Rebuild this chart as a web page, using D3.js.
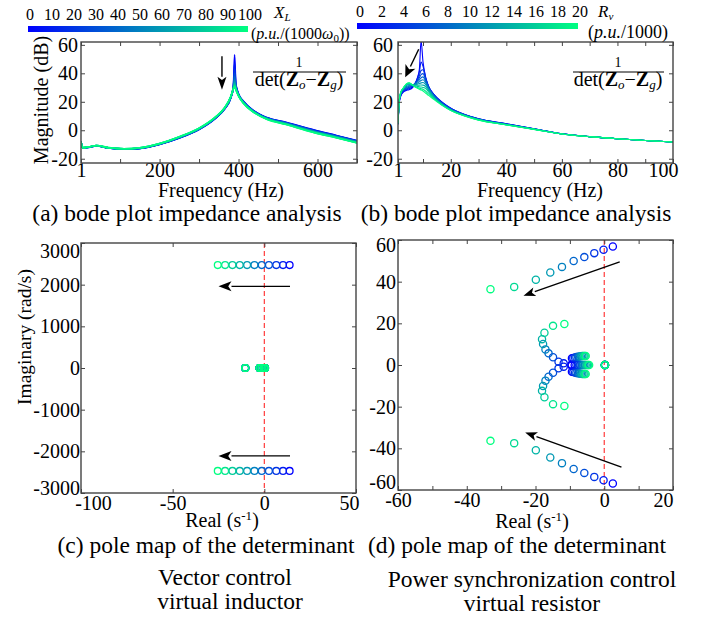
<!DOCTYPE html>
<meta charset="utf-8" />
<head>
  <script src="https://d3js.org/d3.v7.min.js"></script>
  <style>
    body { margin: 0; background: #fff; }
    text { font-family: "Liberation Serif", "Times New Roman", serif; fill: #000; }
  </style>
</head>
<body>
<div id="chart"></div>
<script>
// ---------- data ----------
// (a) vector control, virtual inductor X_L = 0..100 (p.u./(1000 w0))
var xlValues = [0, 10, 20, 30, 40, 50, 60, 70, 80, 90, 100];
var freqA = [1, 5, 20, 40, 70, 110, 150, 200, 250, 300, 340, 365, 380, 387, 390, 393, 400, 412, 437, 471, 520, 590, 650, 700];
var magA = [
  [-8, -12.5, -12.0, -11.0, -12.5, -13.3, -12.8, -10.0, -5.5, 0.5, 8.0, 15.0, 22.5, 31.0, 53.0, 33.0, 25.5, 20.5, 14.0, 9.0, 5.6, 0.3, -3.8, -7.3],
  [-8, -12.5, -12.0, -11.0, -12.5, -13.3, -12.8, -9.9, -5.4, 0.6, 8.1, 15.1, 22.6, 30.8, 47.0, 32.4, 25.4, 20.4, 13.9, 8.9, 5.4, 0.1, -4.0, -7.5],
  [-8, -12.4, -11.9, -10.9, -12.4, -13.2, -12.7, -9.9, -5.3, 0.7, 8.2, 15.2, 22.7, 30.6, 43.0, 31.8, 25.2, 20.2, 13.8, 8.8, 5.3, -0.1, -4.1, -7.6],
  [-8, -12.4, -11.9, -10.9, -12.4, -13.2, -12.7, -9.8, -5.2, 0.8, 8.3, 15.3, 22.8, 30.4, 40.0, 31.3, 25.1, 20.1, 13.6, 8.6, 5.1, -0.3, -4.3, -7.8],
  [-8, -12.4, -11.9, -10.9, -12.4, -13.2, -12.6, -9.7, -5.1, 0.9, 8.4, 15.4, 22.9, 30.2, 37.5, 30.8, 24.9, 19.9, 13.5, 8.5, 5.0, -0.5, -4.5, -8.0],
  [-8, -12.4, -11.9, -10.9, -12.4, -13.2, -12.6, -9.7, -5.0, 1.0, 8.5, 15.5, 23.0, 30.0, 35.5, 30.3, 24.8, 19.8, 13.4, 8.4, 4.8, -0.7, -4.7, -8.2],
  [-8, -12.3, -11.8, -10.8, -12.3, -13.1, -12.5, -9.6, -4.9, 1.1, 8.6, 15.6, 23.1, 29.8, 34.0, 29.9, 24.6, 19.6, 13.3, 8.3, 4.6, -0.9, -4.8, -8.3],
  [-8, -12.3, -11.8, -10.8, -12.3, -13.1, -12.5, -9.5, -4.8, 1.2, 8.7, 15.7, 23.2, 29.6, 33.0, 29.5, 24.5, 19.5, 13.2, 8.2, 4.5, -1.1, -5.0, -8.5],
  [-8, -12.3, -11.8, -10.8, -12.3, -13.1, -12.4, -9.4, -4.7, 1.3, 8.8, 15.8, 23.3, 29.4, 32.0, 29.1, 24.3, 19.3, 13.0, 8.0, 4.3, -1.3, -5.2, -8.7],
  [-8, -12.2, -11.7, -10.7, -12.2, -13.0, -12.4, -9.4, -4.6, 1.4, 8.9, 15.9, 23.4, 29.2, 31.2, 28.8, 24.2, 19.2, 12.9, 7.9, 4.2, -1.5, -5.4, -8.8],
  [-8, -12.2, -11.7, -10.7, -12.2, -13.0, -12.3, -9.3, -4.5, 1.5, 9.0, 16.0, 23.5, 29.0, 30.5, 28.5, 24.0, 19.0, 12.8, 7.8, 4.0, -1.6, -5.5, -9.0]
];

// (b) power synchronization control, virtual resistor R_v = 0..20 (p.u./1000)
var rvValues = [0, 2, 4, 6, 8, 10, 12, 14, 16, 18, 20];
var freqB = [1, 1.5, 2, 3, 4, 5, 6, 7, 8, 8.7, 9.3, 10, 11, 12, 14, 17, 20, 25, 30, 40, 50, 60, 70, 80, 90, 100];
var magB = [
  [4, 20, 24, 27, 28, 28.5, 29.5, 32, 37, 43, 63, 48, 37, 31, 25, 19.5, 15.5, 11, 8, 4.5, 1, -2.5, -4.5, -6, -7.2, -8.3],
  [4.2, 20.3, 24.4, 27.4, 28.5, 29.1, 30.2, 32.4, 36.5, 41, 48, 45, 36.5, 30.8, 24.8, 19.3, 15.4, 11, 8, 4.5, 1, -2.5, -4.5, -6, -7.2, -8.3],
  [4.4, 20.6, 24.8, 27.8, 29, 29.7, 30.8, 32.6, 35.5, 38.5, 42, 42.5, 36, 30.6, 24.6, 19.1, 15.2, 10.9, 7.9, 4.4, 1, -2.5, -4.5, -6, -7.2, -8.3],
  [4.6, 20.9, 25.2, 28.2, 29.5, 30.3, 31.2, 32.7, 34.8, 36.8, 39, 39.8, 35.3, 30.3, 24.3, 18.9, 15, 10.8, 7.8, 4.3, 0.9, -2.5, -4.5, -6, -7.2, -8.3],
  [4.8, 21.2, 25.5, 28.6, 30.1, 30.9, 31.5, 32.6, 34, 35.3, 36.8, 37.5, 34.3, 29.8, 24, 18.7, 14.8, 10.7, 7.7, 4.2, 0.9, -2.5, -4.5, -6, -7.2, -8.3],
  [5, 21.4, 25.8, 29, 30.8, 31.5, 31.7, 32.4, 33.2, 34, 35, 35.5, 33.2, 29.2, 23.6, 18.4, 14.6, 10.6, 7.6, 4.1, 0.8, -2.6, -4.5, -6, -7.2, -8.3],
  [5, 21.6, 26.1, 29.3, 31.4, 32.1, 31.9, 32, 32.4, 32.8, 33.3, 33.5, 32, 28.6, 23.2, 18.1, 14.4, 10.4, 7.5, 4, 0.8, -2.6, -4.5, -6, -7.2, -8.3],
  [5, 21.8, 26.3, 29.6, 31.9, 32.6, 32, 31.6, 31.6, 31.7, 31.8, 31.7, 30.7, 27.8, 22.8, 17.9, 14.3, 10.3, 7.4, 3.9, 0.7, -2.6, -4.5, -6, -7.2, -8.3],
  [5, 21.9, 26.5, 29.8, 32.2, 33, 32.1, 31.2, 30.8, 30.6, 30.4, 30.1, 29.3, 27, 22.4, 17.7, 14.1, 10.2, 7.3, 3.9, 0.7, -2.6, -4.5, -6, -7.2, -8.3],
  [5, 22, 26.6, 29.9, 32.4, 33.2, 32.1, 30.9, 30.1, 29.6, 29.2, 28.8, 27.4, 25.5, 22, 17.5, 14, 10.1, 7.2, 3.8, 0.6, -2.6, -4.5, -6, -7.2, -8.3],
  [5, 22, 26.7, 30, 32.6, 33.4, 32, 30.5, 29.5, 28.8, 28.3, 27.6, 26, 24.5, 21.5, 17.3, 13.8, 10, 7.1, 3.8, 0.6, -2.6, -4.5, -6, -7.2, -8.3]
];

// (c) poles, one pair per X_L value (conjugates drawn with -imag)
var realC = [13.8, 10.2, 6.5, 2.5, -1.4, -5.4, -9.4, -13.4, -17.4, -21.4, -25.4];
var imagC = [2470, 2470, 2470, 2470, 2470, 2470, 2470, 2470, 2470, 2470, 2470];
var realPolesAxisC = [-10.4, -2.6, -1.4, -0.2, 0.4];

// (d) poles vs R_v
var rvOuterD = [0, 2, 4, 6, 8, 10, 12, 14, 17, 20];
var reOuterD = [2.5, -0.2, -2.9, -5.8, -8.9, -12.3, -15.7, -19.9, -26.2, -33.1];
var imOuterD = [56.9, 55.3, 53.7, 51.8, 49.9, 47.1, 44.4, 40.9, 37.5, 36.4];
var reInnerD = [-9.5, -11.8, -13.3, -14.9, -16.2, -17.1, -17.8, -18.1, -17.4, -14.9, -11.6];
var imInnerD = [0.3, 0.8, 1.6, 3.7, 5.6, 7.5, 10.1, 12.4, 15.5, 18.8, 19.7];
var reClusterD = [-9.4, -9.0, -8.5, -8.1, -7.6, -7.2, -6.8, -6.4, -6.0, -5.7, -5.4];
var imClusterD = [3.2, 3.4, 3.6, 3.8, 4.0, 4.1, 4.2, 4.3, 4.3, 4.3, 4.3];
var reClusterMidD = [-8.6, -8.1, -7.6, -7.1, -6.6, -6.2, -5.8, -5.4, -5.0, -4.7, -4.4];
var reOriginD = [0.2];

// arrows [x1, y1, x2, y2] in data units, head at (x2, y2)
var arrowA = [358, 52, 358, 28.5];
var arrowB = [8.45, 56.9, 3.6, 37.2];
var arrowsC = [[14, 1960, -25, 1960], [14, -2110, -25, -2110]];
var arrowsD = [[4.5, 49.5, -23.5, 33.3], [5, -49, -23, -32.4]];

// ---------- drawing ----------
var W = 710, H = 623;
var svg = d3.select("#chart").append("svg").attr("width", W).attr("height", H);
svg.append("rect").attr("width", W).attr("height", H).attr("fill", "#fff");

var winter = d3.interpolateRgb("rgb(0,0,255)", "rgb(0,255,128)");
var FS = 20;       // tick labels
var TITLE = 20;    // axis titles
var CAP = 23.5;    // captions

function axes(x, y, o) {
  var g = svg.append("g");
  var x0 = x.range()[0], x1 = x.range()[1], y0 = y.range()[0], y1 = y.range()[1];
  function style(sel) {
    sel.attr("font-family", null).attr("font-size", null);
    sel.select(".domain").remove();
    sel.selectAll("line").attr("stroke", "#444").attr("stroke-width", 1);
    sel.selectAll("text").style("font-size", FS + "px")
      .style("font-family", "'Liberation Serif', serif");
  }
  var bx = g.append("g").attr("transform", "translate(0," + y0 + ")")
    .call(d3.axisBottom(x).tickValues(o.xTicks).tickFormat(o.xFmt).tickSizeInner(-4).tickSizeOuter(0).tickPadding(o.xPad));
  style(bx);
  var tx = g.append("g").attr("transform", "translate(0," + y1 + ")")
    .call(d3.axisTop(x).tickValues(o.xTicks).tickFormat("").tickSizeInner(-4).tickSizeOuter(0));
  style(tx);
  var ly = g.append("g").attr("transform", "translate(" + x0 + ",0)")
    .call(d3.axisLeft(y).tickValues(o.yTicks).tickFormat(function (d) { return String(d); })
      .tickSizeInner(-4).tickSizeOuter(0).tickPadding(o.yPad));
  style(ly);
  var ry = g.append("g").attr("transform", "translate(" + x1 + ",0)")
    .call(d3.axisRight(y).tickValues(o.yTicks).tickFormat("").tickSizeInner(-4).tickSizeOuter(0));
  style(ry);
  // end labels sit a little inward in the reference
  if (o.xNudge) bx.selectAll(".tick text").attr("dx", function (d) { return o.xNudge[d] || 0; });
  if (o.yNudge) ly.selectAll(".tick text").attr("dy", function (d) { return (0.32 * FS + (o.yNudge[d] || 0)) + "px"; });
  g.append("rect").attr("x", x0).attr("y", y1).attr("width", x1 - x0).attr("height", y0 - y1)
    .attr("fill", "none").attr("stroke", "#444").attr("stroke-width", 1.4);
  return g;
}

function label(x, y, txt, size, anchor, rotate) {
  var t = svg.append("text").attr("x", x).attr("y", y).text(txt)
    .style("font-size", size + "px").attr("text-anchor", anchor || "middle");
  if (rotate) t.attr("transform", "rotate(-90," + x + "," + y + ")");
  return t;
}

function arrow(x, y, a, len, wid, sw) {
  var x1 = x(a[0]), y1 = y(a[1]), x2 = x(a[2]), y2 = y(a[3]);
  var ang = Math.atan2(y2 - y1, x2 - x1);
  var bx = x2 - len * Math.cos(ang), by = y2 - len * Math.sin(ang);
  var px = -Math.sin(ang) * wid / 2, py = Math.cos(ang) * wid / 2;
  svg.append("line").attr("x1", x1).attr("y1", y1).attr("x2", bx).attr("y2", by)
    .attr("stroke", "#000").attr("stroke-width", sw || 1.3);
  svg.append("path")
    .attr("d", "M" + x2 + "," + y2 + "L" + (bx + px) + "," + (by + py) + "L" + (bx + len * 0.25 * Math.cos(ang)) + "," + (by + len * 0.25 * Math.sin(ang)) + "L" + (bx - px) + "," + (by - py) + "Z")
    .attr("fill", "#000");
}

function fraction(cx, lineY, x0, x1, size) {
  label(cx, lineY - 5, "1", size - 6);
  svg.append("line").attr("x1", x0).attr("x2", x1).attr("y1", lineY).attr("y2", lineY)
    .attr("stroke", "#000").attr("stroke-width", 1);
  var t = svg.append("text").attr("x", cx).attr("y", lineY + 14).attr("text-anchor", "middle")
    .style("font-size", size + "px");
  t.append("tspan").text("det(");
  t.append("tspan").text("Z").attr("font-weight", "bold");
  t.append("tspan").text("o").attr("font-style", "italic").attr("dy", 3).style("font-size", (size - 7) + "px");
  t.append("tspan").text("\u2212").attr("dy", -3);
  t.append("tspan").text("Z").attr("font-weight", "bold");
  t.append("tspan").text("g").attr("font-style", "italic").attr("dy", 3).style("font-size", (size - 7) + "px");
  t.append("tspan").text(")").attr("dy", -3);
}

function colorbar(x0, x1, yTop, h, vals, labelX0, labelStep, labelY) {
  var id = "grad" + x0;
  var grad = svg.append("defs").append("linearGradient").attr("id", id);
  d3.range(0, 1.01, 0.1).forEach(function (t) {
    grad.append("stop").attr("offset", t).attr("stop-color", winter(t));
  });
  svg.append("rect").attr("x", x0).attr("y", yTop).attr("width", x1 - x0).attr("height", h)
    .attr("fill", "url(#" + id + ")");
  vals.forEach(function (v, i) {
    label(labelX0 + labelStep * i, labelY, v, 16);
  });
}

// ----- panel (a) -----
var xA = d3.scaleLinear().domain([1, 700]).range([81, 357]);
var yA = d3.scaleLinear().domain([-23, 62]).range([163, 42]);
svg.append("clipPath").attr("id", "clipA").append("rect").attr("x", 81).attr("y", 42).attr("width", 276).attr("height", 121);
var lineA = d3.line().x(function (d, i) { return xA(freqA[i]); }).y(function (d) { return yA(d); }).curve(d3.curveMonotoneX);
svg.append("g").attr("clip-path", "url(#clipA)").selectAll("path").data(magA).join("path")
  .attr("d", lineA).attr("fill", "none").attr("stroke-width", 1.6)
  .attr("stroke", function (d, i) { return winter(xlValues[i] / 100); });
axes(xA, yA, {
  xTicks: [1, 100, 200, 300, 400, 500, 600, 700],
  xFmt: function (d) { return [1, 200, 400, 600].indexOf(d) >= 0 ? d : ""; },
  xPad: 0, yTicks: [-20, 0, 20, 40, 60], yPad: 3
});
arrow(xA, yA, arrowA, 13, 9, 1.4);
fraction(299, 72, 253, 346, 20);
label(48, 100, "Magnitude (dB)", TITLE, "middle", true);
label(221, 197, "Frequency (Hz)", TITLE);
label(187, 221, "(a) bode plot impedance analysis", CAP);

// ----- panel (b) -----
var xB = d3.scaleLinear().domain([1, 100]).range([398, 673]);
var yB = d3.scaleLinear().domain([-23, 62]).range([163, 42]);
svg.append("clipPath").attr("id", "clipB").append("rect").attr("x", 398).attr("y", 42).attr("width", 275).attr("height", 121);
var lineB = d3.line().x(function (d, i) { return xB(freqB[i]); }).y(function (d) { return yB(d); }).curve(d3.curveMonotoneX);
svg.append("g").attr("clip-path", "url(#clipB)").selectAll("path").data(magB).join("path")
  .attr("d", lineB).attr("fill", "none").attr("stroke-width", 1.1)
  .attr("stroke", function (d, i) { return winter(rvValues[i] / 20); });
axes(xB, yB, {
  xTicks: [1, 10, 20, 30, 40, 50, 60, 70, 80, 90, 100],
  xFmt: function (d) { return [1, 20, 40, 60, 80, 100].indexOf(d) >= 0 ? d : ""; },
  xPad: 0, xNudge: { 100: -10 }, yTicks: [-20, 0, 20, 40, 60], yPad: 5
});
arrow(xB, yB, arrowB, 12, 11, 1.4);
fraction(618, 72, 573, 664, 20);
label(540, 197, "Frequency (Hz)", TITLE);
label(516, 221, "(b) bode plot impedance analysis", CAP);

// ----- colorbars -----
colorbar(28, 248, 26, 6, xlValues, 30, 22, 20);
var xlLab = svg.append("text").attr("x", 274).attr("y", 18).style("font-size", "17px");
xlLab.append("tspan").text("X").attr("font-style", "italic");
xlLab.append("tspan").text("L").attr("font-style", "italic").attr("dy", 3).style("font-size", "11px");
var xlUnit = svg.append("text").attr("x", 251).attr("y", 39).style("font-size", "16px");
xlUnit.append("tspan").text("(");
xlUnit.append("tspan").text("p.u.").attr("font-style", "italic");
xlUnit.append("tspan").text("/(1000");
xlUnit.append("tspan").text("\u03c9").attr("font-style", "italic");
xlUnit.append("tspan").text("0").attr("dy", 3).style("font-size", "11px");
xlUnit.append("tspan").text("))").attr("dy", -3);

colorbar(357, 578, 23, 6, rvValues, 360, 22, 17);
var rvLab = svg.append("text").attr("x", 598).attr("y", 17).style("font-size", "17px");
rvLab.append("tspan").text("R").attr("font-style", "italic");
rvLab.append("tspan").text("v").attr("font-style", "italic").attr("dy", 3).style("font-size", "11px");
var rvUnit = svg.append("text").attr("x", 588).attr("y", 38).style("font-size", "18px");
rvUnit.append("tspan").text("(");
rvUnit.append("tspan").text("p.u.").attr("font-style", "italic");
rvUnit.append("tspan").text("/1000)");

// ----- panel (c) -----
var xC = d3.scaleLinear().domain([-100, 50]).range([81, 356]);
var yC = d3.scaleLinear().domain([-3000, 3000]).range([493, 243]);
svg.append("line").attr("x1", xC(0)).attr("x2", xC(0)).attr("y1", 243).attr("y2", 493)
  .attr("stroke", "#ff3b3b").attr("stroke-width", 1.2).attr("stroke-dasharray", "5,3");
var polesC = [];
xlValues.forEach(function (v, i) {
  polesC.push({ re: realC[i], im: imagC[i], t: v / 100 });
  polesC.push({ re: realC[i], im: -imagC[i], t: v / 100 });
  realPolesAxisC.forEach(function (r) { polesC.push({ re: r, im: 0, t: v / 100 }); });
});
svg.append("g").selectAll("circle").data(polesC).join("circle")
  .attr("cx", function (d) { return xC(d.re); }).attr("cy", function (d) { return yC(d.im); })
  .attr("r", 3.4).attr("fill", "none").attr("stroke-width", 1.3)
  .attr("stroke", function (d) { return winter(d.t); });
axes(xC, yC, {
  xTicks: [-100, -50, 0, 50], xFmt: function (d) { return String(d); }, xPad: 3, xNudge: { "-100": 12, 50: -7 },
  yTicks: [-3000, -2000, -1000, 0, 1000, 2000, 3000], yPad: 1, yNudge: { 3000: 8, "-3000": -5 }
});
arrowsC.forEach(function (a) { arrow(xC, yC, a, 13, 10, 1.4); });
var realLabC = label(222, 527, "Real (s", TITLE);
realLabC.append("tspan").text("-1").attr("dy", -7).style("font-size", "13px");
realLabC.append("tspan").text(")").attr("dy", 7);
label(31, 337, "Imaginary (rad/s)", 19.5, "middle", true);
label(206, 553, "(c) pole map of the determinant", CAP);
label(225, 585, "Vector control", CAP);
label(230, 609, "virtual inductor", CAP);

// ----- panel (d) -----
var xD = d3.scaleLinear().domain([-60, 20]).range([398, 673]);
var yD = d3.scaleLinear().domain([-60, 60]).range([490, 240]);
svg.append("line").attr("x1", xD(0)).attr("x2", xD(0)).attr("y1", 240).attr("y2", 490)
  .attr("stroke", "#ff3b3b").attr("stroke-width", 1.2).attr("stroke-dasharray", "5,3");
var polesD = [];
rvOuterD.forEach(function (v, i) {
  polesD.push({ re: reOuterD[i], im: imOuterD[i], t: v / 20 });
  polesD.push({ re: reOuterD[i], im: -imOuterD[i], t: v / 20 });
});
rvValues.forEach(function (v, i) {
  polesD.push({ re: reInnerD[i], im: imInnerD[i], t: v / 20 });
  polesD.push({ re: reInnerD[i], im: -imInnerD[i], t: v / 20 });
});
rvValues.forEach(function (v, i) {
  polesD.push({ re: reClusterD[i], im: imClusterD[i], t: v / 20 });
  polesD.push({ re: reClusterD[i], im: -imClusterD[i], t: v / 20 });
  polesD.push({ re: reClusterMidD[i], im: 0, t: v / 20 });
  polesD.push({ re: reOriginD[0], im: 0, t: v / 20 });
});
polesD.sort(function (a, b) { return a.t - b.t; });
svg.append("g").selectAll("circle").data(polesD).join("circle")
  .attr("cx", function (d) { return xD(d.re); }).attr("cy", function (d) { return yD(d.im); })
  .attr("r", 3.6).attr("fill", "none").attr("stroke-width", 1.3)
  .attr("stroke", function (d) { return winter(d.t); });
axes(xD, yD, {
  xTicks: [-60, -50, -40, -30, -20, -10, 0, 10, 20],
  xFmt: function (d) { return d % 20 === 0 ? String(d) : ""; }, xPad: 3, xNudge: { 20: -10 },
  yTicks: [-60, -40, -20, 0, 20, 40, 60], yPad: 2, yNudge: { 60: 5, "-60": -8 }
});
arrowsD.forEach(function (a) { arrow(xD, yD, a, 12, 9, 1.4); });
var realLabD = label(532, 528, "Real (s", TITLE);
realLabD.append("tspan").text("-1").attr("dy", -7).style("font-size", "13px");
realLabD.append("tspan").text(")").attr("dy", 7);
label(517, 553, "(d) pole map of the determinant", CAP);
label(532, 587, "Power synchronization control", CAP);
label(532, 611, "virtual resistor", CAP);
</script>
</body>
